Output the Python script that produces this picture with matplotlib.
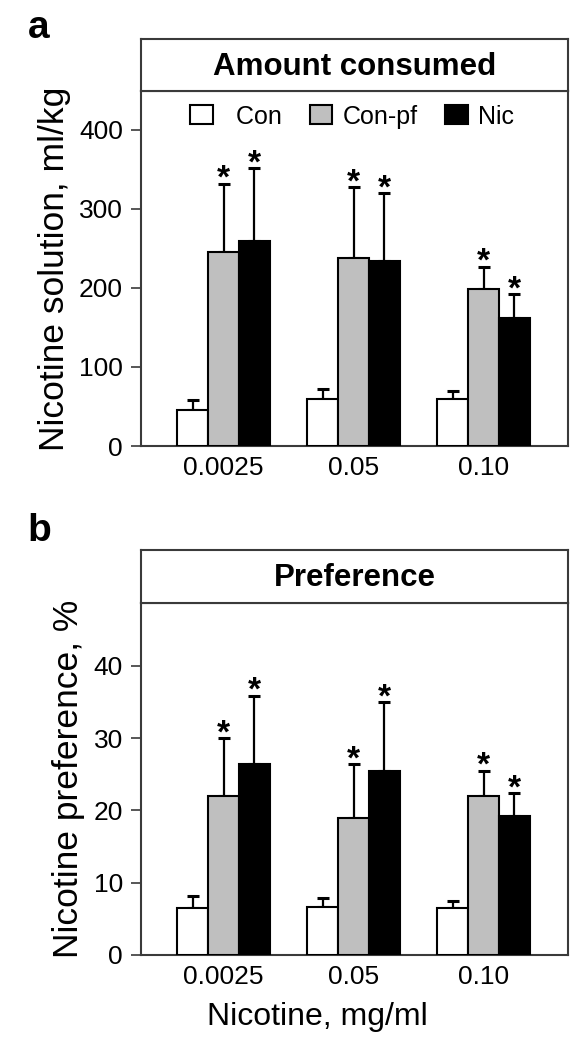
import numpy as np
import matplotlib
matplotlib.use('Agg')
import matplotlib.pyplot as plt

plt.rcParams['font.family'] = ['Liberation Sans', 'DejaVu Sans']

doses = ['0.0025', '0.05', '0.10']
groups = ['  Con', 'Con-pf', 'Nic']
colors = ['white', '#bfbfbf', 'black']

# panel a - amount consumed (ml/kg)
amt_con = [46, 59, 60]
amt_con_err = [12, 13, 9]
amt_pf = [245, 238, 199]
amt_pf_err = [87, 89, 28]
amt_nic = [259, 234, 162]
amt_nic_err = [92, 86, 30]

# panel b - preference (%)
pref_con = [6.5, 6.6, 6.5]
pref_con_err = [1.7, 1.3, 1.0]
pref_pf = [22.0, 19.0, 22.0]
pref_pf_err = [8.0, 7.4, 3.5]
pref_nic = [26.4, 25.4, 19.2]
pref_nic_err = [9.5, 9.6, 3.2]

# which bars get an asterisk (Con, Con-pf, Nic)
signif = [False, True, True]

W, H = 581, 1049
fig = plt.figure(figsize=(W/100, H/100), dpi=100)

frame_col = '#3a3a3a'
L = 141/W
AW = 427/W
bw = 0.238
x = np.arange(len(doses))


def panel(top_px, bot_px, ttop_px, title, vals, errs, ylim, yticks, ylabel, show_legend):
    ax = fig.add_axes([L, 1 - bot_px/H, AW, (bot_px - top_px)/H])
    tax = fig.add_axes([L, 1 - top_px/H, AW, (top_px - ttop_px)/H])
    tax.set_xticks([])
    tax.set_yticks([])
    tax.text(0.5, 0.47, title, ha='center', va='center', fontsize=22.5, fontweight='bold')
    for s in tax.spines.values():
        s.set_color(frame_col)
        s.set_linewidth(1.5)

    for i in range(3):
        xi = x + (i - 1)*bw
        ax.bar(xi, vals[i], width=bw, color=colors[i], edgecolor='black',
               linewidth=1.5, label=groups[i], zorder=3)
        ax.errorbar(xi, vals[i], yerr=[np.zeros(3), errs[i]], fmt='none',
                    ecolor='black', elinewidth=1.6, capsize=4.3, capthick=2.2, zorder=2)
        if signif[i]:
            for j in range(3):
                ax.annotate('*', xy=(xi[j], vals[i][j] + errs[i][j]), xytext=(0, -3),
                            textcoords='offset points', ha='center', va='baseline',
                            fontsize=24, fontweight='bold')

    ax.set_xlim(-0.635, 2.65)
    ax.set_ylim(*ylim)
    ax.set_yticks(yticks)
    ax.set_xticks(x)
    ax.set_xticklabels(doses)
    ax.tick_params(axis='x', length=0, pad=7, labelsize=19)
    ax.tick_params(axis='y', direction='out', length=7, width=1.2, pad=6,
                   labelsize=19, color=frame_col)
    for s in ax.spines.values():
        s.set_color(frame_col)
        s.set_linewidth(1.5)
    ax.set_ylabel(ylabel, fontsize=25.5, labelpad=6)

    if show_legend:
        ax.legend(loc='center left', bbox_to_anchor=((190 - 141)/427, 0.928),
                  ncol=3, frameon=False, fontsize=18, handlelength=0.9,
                  handleheight=0.8, handletextpad=0.4, columnspacing=1.1,
                  borderaxespad=0, borderpad=0)
    return ax


axa = panel(91, 446, 39, 'Amount consumed', [amt_con, amt_pf, amt_nic],
            [amt_con_err, amt_pf_err, amt_nic_err], (0, 449), [0, 100, 200, 300, 400],
            'Nicotine solution, ml/kg', True)
axb = panel(603, 955, 550, 'Preference', [pref_con, pref_pf, pref_nic],
            [pref_con_err, pref_pf_err, pref_nic_err], (0, 48.7), [0, 10, 20, 30, 40],
            'Nicotine preference, %', False)

axb.set_xlabel('Nicotine, mg/ml', fontsize=23)
axb.xaxis.set_label_coords((317.5 - 141)/427, -0.133)

fig.text(28/W, 1 - 38/H, 'a', fontsize=28, fontweight='bold', va='baseline')
fig.text(27/W, 1 - 541/H, 'b', fontsize=28, fontweight='bold', va='baseline')

fig.savefig('out.png', dpi=100)
